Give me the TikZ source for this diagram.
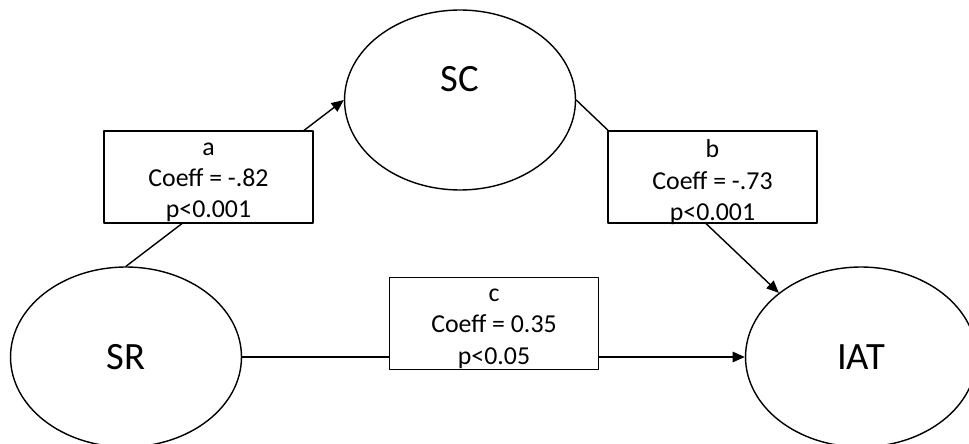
\documentclass[tikz,border=0pt]{standalone}
\usepackage{fontspec}
\setmainfont{Carlito}
\usetikzlibrary{shapes.geometric}
\usetikzlibrary{arrows.meta}

\tikzset{
  latent/.style={draw, ellipse, line width=0.8pt, minimum width=4.62cm, minimum height=3.6cm, inner sep=0pt, font=\fontsize{22}{26}\selectfont},
  coefbox/.style={draw, fill=white, line width=0.8pt, minimum width=4.18cm, minimum height=1.84cm, inner sep=0pt},
  coeftext/.style={align=center, inner sep=0pt, font=\fontsize{14.7}{17.9}\selectfont},
  linkarrow/.style={line width=0.8pt, -{Triangle[length=7pt, width=6pt]}}
}

\begin{document}
\begin{tikzpicture}[x=0.02cm, y=0.02cm, line cap=round, line join=round]
\useasboundingbox (0,0) rectangle (969,443);
\clip (0,0) rectangle (969,443);

% --- Variabili latenti ---
\node[latent, text height=14pt, text depth=24pt] (sc) at (460,343) {SC};
\node[latent] (sr) at (126,86) {SR};
\node[latent] (iat) at (861,86) {IAT};

% --- Percorsi ---
\draw[linkarrow] (sr.north) -- (sc.west);
\draw[linkarrow] (sc.east) -- (iat.north west);
\draw[linkarrow] (sr.east) -- (iat.west);

% --- Coefficienti ---
\node[coefbox] (boxa) at (208.5,266) {};
\node[coeftext] (texta) at ([yshift=-3pt]boxa.center) {a\\Coeff = -.82\\p<0.001};

\node[coefbox] (boxb) at (712.5,266) {};
\node[coeftext] (textb) at ([yshift=-3pt]boxb.center) {b\\Coeff = -.73\\p<0.001};

\node[coefbox] (boxc) at (494,119.5) {};
\node[coeftext] (textc) at ([yshift=-3pt]boxc.center) {c\\Coeff = 0.35\\p<0.05};
\end{tikzpicture}
\end{document}
